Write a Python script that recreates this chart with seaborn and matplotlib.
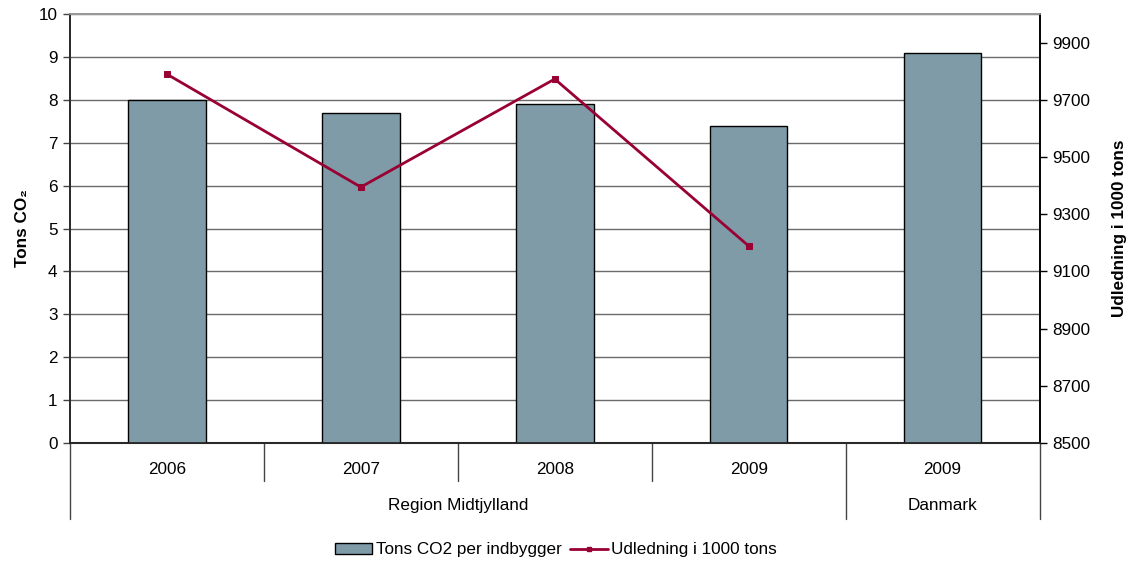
import pandas as pd
import seaborn as sns
import matplotlib.pyplot as plt
from matplotlib.patches import Patch
from matplotlib.lines import Line2D

years = ["2006", "2007", "2008", "2009", "2009"]
groups = ["Region Midtjylland", "Region Midtjylland", "Region Midtjylland", "Region Midtjylland", "Danmark"]
tons_per_capita = [8.0, 7.7, 7.9, 7.4, 9.1]
udledning = [9790, 9395, 9773, 9189]

bar_color = "#7F9BA8"
line_color = "#990033"
fs = 12.3

sns.set_theme(style="white")
plt.rcParams['font.family'] = ['Liberation Sans', 'DejaVu Sans']
plt.rcParams['font.size'] = fs
plt.rcParams['text.color'] = 'black'
plt.rcParams['axes.labelcolor'] = 'black'
plt.rcParams['xtick.color'] = 'black'
plt.rcParams['ytick.color'] = 'black'

df = pd.DataFrame({'key': [g + " " + y + str(i) for i, (g, y) in enumerate(zip(groups, years))],
                   'Value': tons_per_capita})

fig = plt.figure(figsize=(11.34, 5.65), dpi=100)
ax = fig.add_axes([0.0617, 0.216, 0.855, 0.759])
sns.barplot(data=df, x='key', y='Value', color=bar_color, saturation=1, width=0.4,
            edgecolor='black', linewidth=1, ax=ax, zorder=3)
ax.set_ylim(0, 10)
ax.set_yticks(range(0, 11))
ax.set_xlim(-0.5, 4.5)
ax.set_xticks([])
ax.set_xlabel('')
ax.set_ylabel('Tons CO₂', fontweight='bold', fontsize=fs, labelpad=6)
ax.yaxis.grid(True, color='#6a6a6a', linewidth=1)
ax.set_axisbelow(True)
ax.tick_params(axis='y', left=True, length=5, width=1, color='#444444', labelsize=fs, pad=4)
for s in ['left', 'bottom']:
    ax.spines[s].set_color('#444444')
ax.spines['top'].set_color('#999999')
ax.spines['bottom'].set_linewidth(1.5)

ax2 = ax.twinx()
ln = pd.DataFrame({'x': list(range(len(udledning))), 'y': udledning})
sns.lineplot(data=ln, x='x', y='y', ax=ax2, color=line_color, linewidth=2,
             marker='s', markersize=5, markeredgecolor=line_color)
ax2.set_ylim(8500, 10000)
ax2.set_yticks(range(8500, 10000, 200))
ax2.set_ylabel('Udledning i 1000 tons', fontweight='bold', fontsize=fs, labelpad=16)
ax2.yaxis.set_label_position('right')
ax2.yaxis.label.set_rotation(90)
ax2.tick_params(axis='y', right=True, length=5, width=1, color='black', labelsize=fs, pad=4)
ax2.spines['right'].set_color('black')
ax2.spines['top'].set_color('#999999')
ax2.set_xlabel('')

# category labels below axis
trans = ax.get_xaxis_transform()
for i, y in enumerate(years):
    ax.text(i, -0.061, y, transform=trans, ha='center', va='center', fontsize=fs)
ax.text(1.5, -0.147, "Region Midtjylland", transform=trans, ha='center', va='center', fontsize=fs)
ax.text(4, -0.147, "Danmark", transform=trans, ha='center', va='center', fontsize=fs)
for xs in [0.5, 1.5, 2.5]:
    ax.add_line(Line2D([xs, xs], [0, -0.089], transform=trans, color='#444444', lw=1, clip_on=False))
for xs in [-0.5, 3.5, 4.5]:
    ax.add_line(Line2D([xs, xs], [0, -0.177], transform=trans, color='#444444', lw=1, clip_on=False))

handles = [Patch(facecolor=bar_color, edgecolor='black', linewidth=1),
           Line2D([], [], color=line_color, lw=2, marker='s', markersize=3)]
fig.legend(handles, ['Tons CO2 per indbygger', 'Udledning i 1000 tons'], loc='center',
           bbox_to_anchor=(0.49, 0.027), ncol=2, frameon=False, fontsize=fs,
           handlelength=2.2, handleheight=0.6, handletextpad=0.2, columnspacing=0.5)

fig.savefig("out.png", dpi=100)
